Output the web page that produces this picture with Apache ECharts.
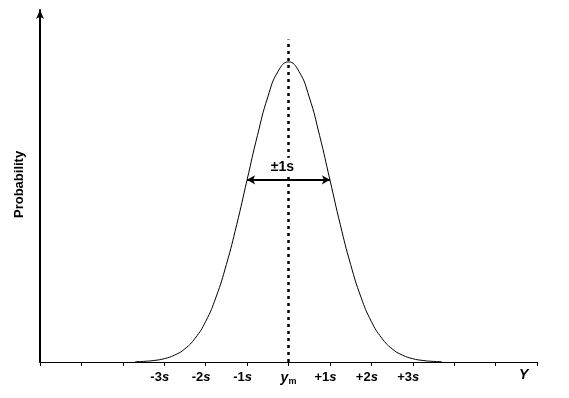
<!DOCTYPE html>
<html><head><meta charset="utf-8">
<script src="https://cdn.jsdelivr.net/npm/echarts@6/dist/echarts.min.js"></script>
<style>html,body{margin:0;padding:0;background:#fff}#c{width:569px;height:398px}</style>
</head><body><div id="c"></div>
<script>
// x in units of s (standard deviation), y = relative probability (peak = 1)
const xValues = [-3.7,-3.5,-3.25,-3,-2.75,-2.5,-2.25,-2,-1.75,-1.5,-1.25,-1,-0.75,-0.5,-0.25,0,0.25,0.5,0.75,1,1.25,1.5,1.75,2,2.25,2.5,2.75,3,3.25,3.5,3.7];
const yValues = [0.001,0.002,0.005,0.011,0.023,0.044,0.080,0.135,0.216,0.325,0.458,0.607,0.755,0.883,0.969,1.0,0.969,0.883,0.755,0.607,0.458,0.325,0.216,0.135,0.080,0.044,0.023,0.011,0.005,0.002,0.001];
const tickValues = [-3,-2,-1,0,1,2,3];
const tickLabels = [['-3','s'],['-2','s'],['-1','s'],['y','m'],['+1','s'],['+2','s'],['+3','s']];
const spanLabel = '±1s';
const spanHeight = 0.607;
const meanLineTop = 1.075;

const chart = echarts.init(document.getElementById('c'));
const font = 'Arial, "Liberation Sans", sans-serif';
chart.setOption({
  animation: false,
  grid: {left: 40, right: 32, top: 10, bottom: 36},
  xAxis: {
    type: 'value', min: -6, max: 6, interval: 1,
    axisLine: {show: true, onZero: false, lineStyle: {color: '#000', width: 1}},
    axisTick: {show: true, length: 4, lineStyle: {color: '#000'}},
    splitLine: {show: false},
    axisLabel: {
      margin: 9,
      formatter: function (v) {
        const i = tickValues.indexOf(Math.round(v));
        if (i < 0 || Math.abs(v - Math.round(v)) > 1e-6) return '';
        const t = tickLabels[i];
        if (t[0] === 'y') return '{iy|y}{sub|m}';
        return '{n|' + t[0] + '}{i|' + t[1] + '}{pad|}';
      },
      rich: {
        n: {fontFamily: font, fontWeight: 'bold', fontSize: 13, color: '#000'},
        i: {fontFamily: font, fontWeight: 'bold', fontStyle: 'italic', fontSize: 13, color: '#000'},
        iy: {fontFamily: font, fontWeight: 'bold', fontStyle: 'italic', fontSize: 14, color: '#000'},
        sub: {fontFamily: font, fontWeight: 'bold', fontSize: 9, color: '#000', verticalAlign: 'bottom', padding: [6,0,0,0]},
        pad: {width: 9}
      }
    }
  },
  yAxis: {
    type: 'value', min: 0, max: 1.173,
    axisLine: {show: true, onZero: false, symbol: ['none', 'arrow'], symbolSize: [6, 9], lineStyle: {color: '#000', width: 2}},
    axisTick: {show: false},
    axisLabel: {show: false},
    splitLine: {show: false}
  },
  graphic: [
    {type: 'text', rotation: Math.PI/2, style: {text: 'Probability', font: 'bold 13px ' + font, fill: '#000'}, x: 13, y: 218},
    {type: 'text', x: 519, y: 368, style: {text: 'Y', font: 'italic bold 14px ' + font, fill: '#000'}}
  ],
  series: [{
    type: 'line',
    data: xValues.map((x, i) => [x, yValues[i]]),
    smooth: true,
    symbol: 'none',
    lineStyle: {color: '#000', width: 1},
    markLine: {
      silent: true,
      animation: false,
      data: [
        [{coord: [0, 0], symbol: 'none', lineStyle: {type: [3, 4], width: 2.5, color: '#000'}, label: {show: false}},
         {coord: [0, meanLineTop], symbol: 'none'}],
        [{coord: [-1, spanHeight], symbol: 'arrow', symbolSize: [7, 8], lineStyle: {type: 'solid', width: 2, color: '#000'},
          label: {show: true, position: 'middle', formatter: '{t|' + spanLabel + '}', distance: 5,
            rich: {t: {fontFamily: font, fontWeight: 'bold', fontSize: 14, color: '#000', backgroundColor: '#fff', padding: [2, 2, 1, 2]}},
            padding: [0, 12, 0, 0]}},
         {coord: [1, spanHeight], symbol: 'arrow', symbolSize: [7, 8]}]
      ]
    }
  }]
});
</script></body></html>
